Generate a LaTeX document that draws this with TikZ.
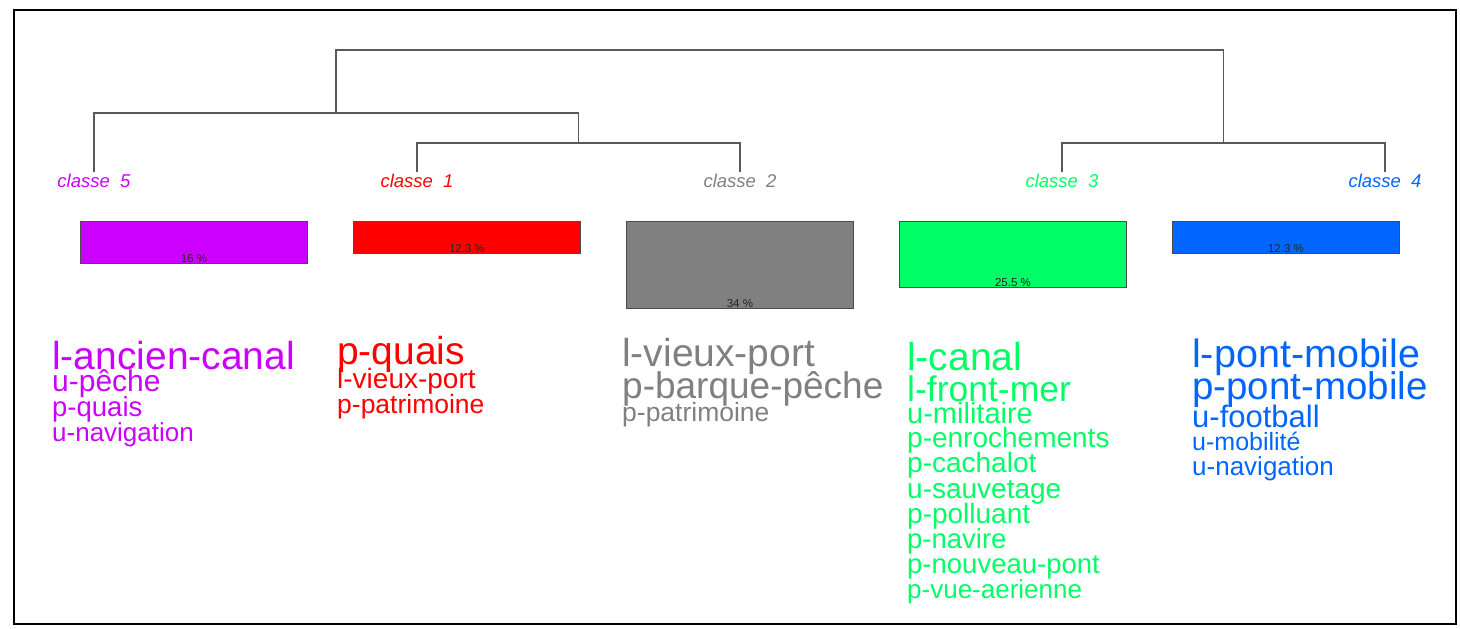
\documentclass[tikz,border=0pt]{standalone}
\usepackage{fontspec}
\setmainfont{Liberation Sans}
\usepackage{xcolor}
\usetikzlibrary{positioning}

\definecolor{cl1}{HTML}{FF0000}
\definecolor{cl2}{HTML}{808080}
\definecolor{cl3}{HTML}{00FF66}
\definecolor{cl4}{HTML}{0066FF}
\definecolor{cl5}{HTML}{CC00FF}
\newcommand{\fsz}[1]{\fontsize{#1}{#1}\selectfont}

\begin{document}
\begin{tikzpicture}[x=1pt, y=-1pt,
			tree/.style={draw=black!65, line width=1.3pt},
			klabel/.style={anchor=base, inner sep=0pt, font=\fsz{18.5}\itshape},
			bar/.style={rectangle, draw=black!70, line width=0.9pt, anchor=north west,
				minimum width=227pt, inner sep=0pt},
			pct/.style={above, inner sep=1.5pt, font=\fsz{11.5}, text=black!85},
			word/.style={anchor=base west, inner sep=0pt}
			]
			\useasboundingbox (0,0) rectangle (1460,629);
			\draw[line width=1.2pt] (14,10) rectangle (1456,624);
			
			\coordinate (t5) at (94,172);
			\coordinate (t1) at (417,172);
			\coordinate (t2) at (740,172);
			\coordinate (t3) at (1062,172);
			\coordinate (t4) at (1385,172);
			\coordinate (m12) at (578.5,143);
			\coordinate (m34) at (1223.5,143);
			\coordinate (m512) at (336,113);
			\coordinate (root) at (780,50);
			
			\draw[tree] (t1) |- (m12) -| (t2);
			\draw[tree] (t3) |- (m34) -| (t4);
			\draw[tree] (t5) |- (m512) -| (m12);
			\draw[tree] (m512) |- (root) -| (m34);
			
			\node[klabel, text=cl5] (k5) at (94,187) {classe\ \ 5};
			\node[klabel, text=cl1] (k1) at (417,187) {classe\ \ 1};
			\node[klabel, text=cl2] (k2) at (740,187) {classe\ \ 2};
			\node[klabel, text=cl3] (k3) at (1062,187) {classe\ \ 3};
			\node[klabel, text=cl4] (k4) at (1385,187) {classe\ \ 4};
			
			\node[bar, fill=cl5, minimum height=42pt] (b5) at (80,221) {};
			\node[bar, fill=cl1, minimum height=32pt] (b1) at (353,221) {};
			\node[bar, fill=cl2, minimum height=87pt] (b2) at (626,221) {};
			\node[bar, fill=cl3, minimum height=66pt] (b3) at (899,221) {};
			\node[bar, fill=cl4, minimum height=32pt] (b4) at (1172,221) {};
			
			\node[pct] (p5) at (b5.south) {16 \%};
			\node[pct] (p1) at (b1.south) {12.3 \%};
			\node[pct] (p2) at (b2.south) {34 \%};
			\node[pct] (p3) at (b3.south) {25.5 \%};
			\node[pct] (p4) at (b4.south) {12.3 \%};
			
			\node[word, text=cl5, font=\fsz{39}] (w5a) at (52,369) {l-ancien-canal};
			\node[word, text=cl5, font=\fsz{30}] (w5b) at (52,391) {u-pêche};
			\node[word, text=cl5, font=\fsz{27.5}] (w5c) at (52,416) {p-quais};
			\node[word, text=cl5, font=\fsz{26}] (w5d) at (52,441) {u-navigation};
			
			\node[word, text=cl1, font=\fsz{39}] (w1a) at (337,364) {p-quais};
			\node[word, text=cl1, font=\fsz{28}] (w1b) at (337,388) {l-vieux-port};
			\node[word, text=cl1, font=\fsz{26.5}] (w1c) at (337,413) {p-patrimoine};
			
			\node[word, text=cl2, font=\fsz{39}] (w2a) at (622,366) {l-vieux-port};
			\node[word, text=cl2, font=\fsz{37}] (w2b) at (622,398) {p-barque-pêche};
			\node[word, text=cl2, font=\fsz{26.5}] (w2c) at (622,421) {p-patrimoine};
			
			\node[word, text=cl3, font=\fsz{39}] (w3a) at (907,370) {l-canal};
			\node[word, text=cl3, font=\fsz{35.5}] (w3b) at (907,401) {l-front-mer};
			\node[word, text=cl3, font=\fsz{29}] (w3c) at (907,423) {u-militaire};
			\node[word, text=cl3, font=\fsz{28}] (w3d) at (907,447) {p-enrochements};
			\node[word, text=cl3, font=\fsz{28}] (w3e) at (907,472) {p-cachalot};
			\node[word, text=cl3, font=\fsz{28}] (w3f) at (907,498) {u-sauvetage};
			\node[word, text=cl3, font=\fsz{28}] (w3g) at (907,523) {p-polluant};
			\node[word, text=cl3, font=\fsz{27.5}] (w3h) at (907,548) {p-navire};
			\node[word, text=cl3, font=\fsz{27.5}] (w3i) at (907,573) {p-nouveau-pont};
			\node[word, text=cl3, font=\fsz{26}] (w3j) at (907,598) {p-vue-aerienne};
			
			\node[word, text=cl4, font=\fsz{39.5}] (w4a) at (1192,367) {l-pont-mobile};
			\node[word, text=cl4, font=\fsz{38.5}] (w4b) at (1192,399) {p-pont-mobile};
			\node[word, text=cl4, font=\fsz{31}] (w4c) at (1192,427) {u-football};
			\node[word, text=cl4, font=\fsz{25}] (w4d) at (1192,450) {u-mobilité};
			\node[word, text=cl4, font=\fsz{26}] (w4e) at (1192,475) {u-navigation};
		\end{tikzpicture}
\end{document}
